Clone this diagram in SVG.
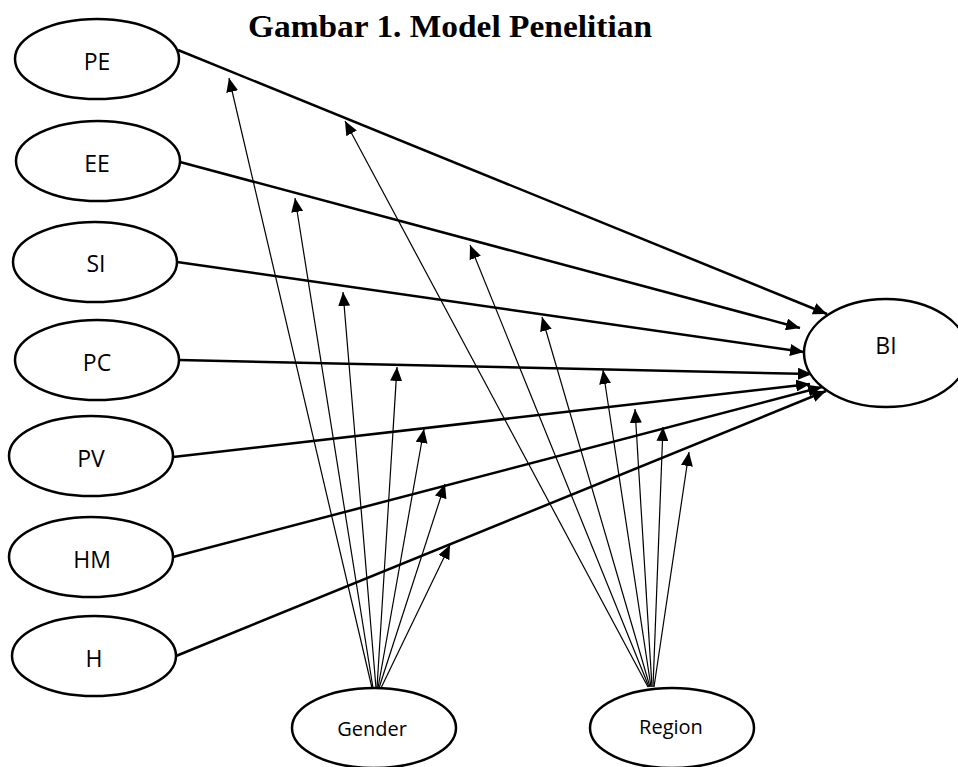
<svg xmlns="http://www.w3.org/2000/svg" width="958" height="767" viewBox="0 0 958 767">
<style>
.node ellipse{fill:#fff;stroke:#000;stroke-width:2.5}
.lbl{font-family:"Open Sans","Liberation Sans",sans-serif;fill:#000;text-anchor:middle}
.main{stroke:#000;stroke-width:2.5;fill:none;marker-end:url(#ah)}
.mod{stroke:#000;stroke-width:1.2;fill:none;marker-end:url(#ah)}
</style>
<defs>
<marker id="ah" markerUnits="userSpaceOnUse" markerWidth="15" markerHeight="12" refX="14" refY="6" orient="auto" viewBox="0 0 15 12">
<path d="M0,0 L14,6 L0,12 Z" fill="#000"/>
</marker>
</defs>
<rect width="958" height="767" fill="#fff"/>
<text x="248" y="37" font-family="'Liberation Serif',serif" font-weight="bold" font-size="31" textLength="404" lengthAdjust="spacingAndGlyphs">Gambar 1. Model Penelitian</text>
<g id="connectors">
<line class="main" x1="178" y1="50" x2="827" y2="314"/>
<line class="main" x1="180" y1="162" x2="800" y2="328"/>
<line class="main" x1="177" y1="262" x2="804" y2="352"/>
<line class="main" x1="179" y1="360" x2="812" y2="374"/>
<line class="main" x1="173" y1="457" x2="810" y2="384"/>
<line class="main" x1="173" y1="557" x2="822" y2="387"/>
<line class="main" x1="176" y1="656" x2="826" y2="391"/>
<line class="mod" x1="372" y1="688" x2="229" y2="78"/>
<line class="mod" x1="373" y1="688" x2="295" y2="198"/>
<line class="mod" x1="376" y1="688" x2="343" y2="292"/>
<line class="mod" x1="377" y1="688" x2="397" y2="367"/>
<line class="mod" x1="378" y1="688" x2="424" y2="429"/>
<line class="mod" x1="379" y1="688" x2="445" y2="484"/>
<line class="mod" x1="381" y1="688" x2="450" y2="545"/>
<line class="mod" x1="648" y1="687" x2="345" y2="121"/>
<line class="mod" x1="649" y1="687" x2="470" y2="245"/>
<line class="mod" x1="650" y1="687" x2="542" y2="317"/>
<line class="mod" x1="651" y1="687" x2="603" y2="370"/>
<line class="mod" x1="652" y1="687" x2="635" y2="409"/>
<line class="mod" x1="653" y1="687" x2="663" y2="427"/>
<line class="mod" x1="654" y1="687" x2="689" y2="452"/>
</g>
<g id="PE" class="node"><ellipse cx="97" cy="59" rx="82" ry="40"/><text class="lbl" x="97" y="70" font-size="23">PE</text></g>
<g id="EE" class="node"><ellipse cx="98" cy="161" rx="82" ry="40"/><text class="lbl" x="97" y="172" font-size="23">EE</text></g>
<g id="SI" class="node"><ellipse cx="95" cy="262" rx="82" ry="40"/><text class="lbl" x="96" y="272" font-size="23">SI</text></g>
<g id="PC" class="node"><ellipse cx="97" cy="360" rx="82" ry="40"/><text class="lbl" x="97" y="371" font-size="23">PC</text></g>
<g id="PV" class="node"><ellipse cx="91" cy="456" rx="82" ry="40"/><text class="lbl" x="91" y="467" font-size="23">PV</text></g>
<g id="HM" class="node"><ellipse cx="91" cy="557" rx="82" ry="40"/><text class="lbl" x="92" y="568" font-size="23">HM</text></g>
<g id="H" class="node"><ellipse cx="94" cy="656" rx="82" ry="40"/><text class="lbl" x="94" y="667" font-size="23">H</text></g>
<g id="BI" class="node"><ellipse cx="886" cy="353" rx="82" ry="54"/><text class="lbl" x="886" y="354" font-size="23">BI</text></g>
<g id="Gender" class="node"><ellipse cx="374" cy="728" rx="82" ry="40"/><text class="lbl" x="372" y="736" font-size="20">Gender</text></g>
<g id="Region" class="node"><ellipse cx="672" cy="728" rx="82" ry="40"/><text class="lbl" x="671" y="734" font-size="20">Region</text></g>
</svg>
